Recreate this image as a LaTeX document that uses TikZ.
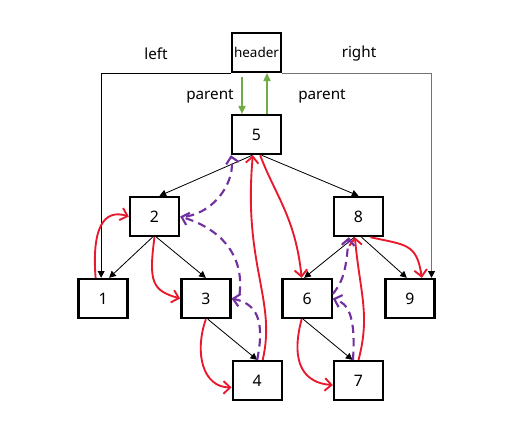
\documentclass[tikz,border=0pt]{standalone}
\usepackage{fontspec}
\setmainfont{Noto Sans}
\usepackage{tikz}
\usetikzlibrary{arrows.meta,positioning,calc}
\definecolor{threadred}{HTML}{E8192C}
\definecolor{threadpurple}{HTML}{7030A0}
\definecolor{parentgreen}{HTML}{70AD47}

\begin{document}
\begin{tikzpicture}[x=0.03cm, y=-0.03cm, node distance=1.22cm and 0cm,
  treebox/.style={draw, line width=2pt, minimum width=1.47cm, minimum height=1.17cm, inner sep=0pt, font=\fontsize{13.5}{16}\selectfont},
  lbl/.style={font=\fontsize{13}{15}\selectfont, inner sep=0pt},
  edge/.style={line width=0.7pt, -{Triangle[length=0.2cm,width=0.2cm]}},
  redthr/.style={threadred, line width=1.6pt, -{Straight Barb[length=0.2cm,width=0.38cm]}},
  purthr/.style={threadpurple, line width=1.8pt, dash pattern=on 7pt off 4.5pt, -{Straight Barb[length=0.2cm,width=0.38cm]}}]
\useasboundingbox (0,0) rectangle (527,432);
\node[treebox] (n5) at (256.5,134.5) {5};
\node[treebox, font=\fontsize{11.5}{14}\selectfont, above=of n5] (hdr) {header};
\node[treebox, below left=1.22cm and 1.52cm of n5] (n2) {2};
\node[treebox, below right=1.22cm and 1.52cm of n5] (n8) {8};
\node[treebox, below left=of n2] (n1) {1};
\node[treebox, below right=of n2] (n3) {3};
\node[treebox, below left=of n8] (n6) {6};
\node[treebox, below right=of n8] (n9) {9};
\node[treebox, below right=of n3] (n4) {4};
\node[treebox, below right=of n6] (n7) {7};
% labels
\node[lbl] (lleft) at (156,54) {left};
\node[lbl] (lright) at (359,54) {right};
\node[lbl] (lpar1) at (210,96) {parent};
\node[lbl] (lpar2) at (322,96) {parent};
% header links
\draw[edge] (hdr.south west) -| ($(n1.north)+(-2,0)$);
\draw[draw=black!55, line width=1pt, -{Triangle[length=0.2cm,width=0.2cm,color=black]}] (hdr.south east) -| ($(n9.north east)+(-4,0)$);
\draw[parentgreen, line width=0.9pt, -{Triangle[length=0.24cm,width=0.22cm]}] ($(hdr.south)+(-14.5,4)$) -- ($(n5.north)+(-14.5,0)$);
\draw[parentgreen, line width=0.9pt, -{Triangle[length=0.24cm,width=0.22cm]}] ($(n5.north)+(10.5,0)$) -- ($(hdr.south)+(10.5,0)$);
% tree edges
\draw[edge] ($(n5.south)+(-4,0)$) -- ($(n2.north)+(5,0)$);
\draw[edge] ($(n5.south)+(5,0)$) -- (n8.north);
\draw[edge] ($(n2.south)+(-2,0)$) -- ($(n1.north)+(6,0)$);
\draw[edge] ($(n2.south)+(2,0)$) -- (n3.north);
\draw[edge] ($(n8.south)+(-4,0)$) -- ($(n6.north)+(-3,0)$);
\draw[edge] ($(n8.south)+(3,0)$) -- ($(n9.north)+(-3,0)$);
\draw[edge] ($(n3.south)+(2,0)$) -- (n4.north);
\draw[edge] ($(n6.south)+(-4,0)$) -- ($(n7.north)+(-6,0)$);
% in-order thread
\draw[redthr] (n1.110) .. controls +(-4,-50) and +(-25,-8) .. (n2.west);
\draw[redthr] (n2.south) .. controls +(-6,45) and +(-28,-8) .. (n3.west);
\draw[redthr] (n3.south) .. controls +(-12,35) and +(-28,0) .. (n4.195);
\draw[redthr] (n4.75) .. controls +(14,-60) and +(-10,110) .. (n5.260);
\draw[redthr] (n5.-80) .. controls +(15,40) and +(-6,-60) .. (n6.105);
\draw[redthr] (n6.-105) .. controls +(-12,45) and +(-28,-2) .. (n7.190);
\draw[redthr] (n7.north) .. controls +(12,-45) and +(5,55) .. (n8.-100);
\draw[redthr] (n8.-60) .. controls +(35,8) and +(-5,-35) .. (n9.60);
% back links
\draw[purthr] (n4.north) .. controls +(8,-40) and +(25,5) .. (n3.east);
\draw[purthr] ($(n3.east)+(8,-4)$) .. controls +(5,-40) and +(40,12) .. (n2.east);
\draw[purthr] ($(n2.east)+(6,0)$) .. controls +(30,-5) and +(5,25) .. (n5.south west);
\draw[purthr] (n7.105) .. controls +(3,-45) and +(15,5) .. (n6.east);
\draw[purthr] (n6.10) .. controls +(12,-15) and +(-3,30) .. (n8.-115);
\end{tikzpicture}
\end{document}
